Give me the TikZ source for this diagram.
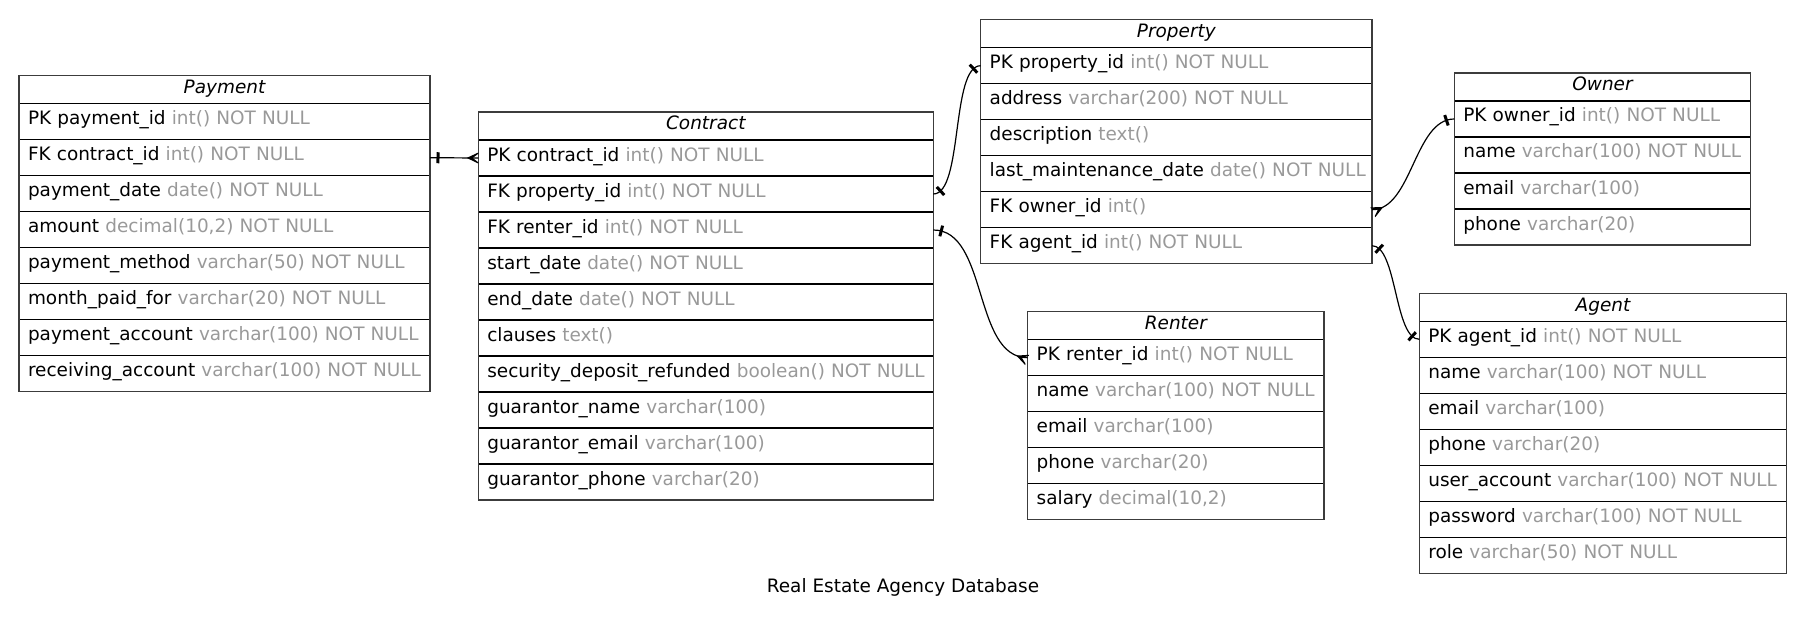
\documentclass[tikz,border=0pt]{standalone}
\usepackage{fontspec}
\setmainfont{DejaVu Sans}
\usetikzlibrary{decorations.markings}
\definecolor{typegray}{HTML}{999999}
\definecolor{framegray}{HTML}{3C3C3C}
\newcommand\erdfont{\fontsize{18.45pt}{22pt}\selectfont}
\newcommand\fl[2]{\mbox{#1 {\color{typegray}#2}}}
\tikzset{
  tw/.style={},
  cell/.style={draw=black, line width=1.2pt, outer sep=0pt, inner xsep=9pt, inner ysep=0pt, anchor=north west, tw},
  hdr/.style={cell, minimum height=28pt, text height=12pt, text depth=4.6pt, align=center, font=\erdfont\itshape},
  fld/.style={cell, minimum height=36pt, text height=12pt, text depth=6pt, align=left, font=\erdfont},
  frame/.style={draw=framegray, line width=1.2pt},
  rel/.style={draw=black, line width=1.2pt},
  teeA/.style={postaction={decorate, decoration={markings, mark=at position 8pt with {\fill (-1.5pt,-5.5pt) rectangle (1.5pt,5.5pt);}}}},
  teeB/.style={postaction={decorate, decoration={markings, mark=at position -8pt with {\fill (-1.5pt,-5.5pt) rectangle (1.5pt,5.5pt);}}}},
  crowA/.style={postaction={decorate, decoration={markings, mark=at position 11.6pt with {\fill (0,0) -- (-11.6pt,5.5pt) -- (-11.6pt,4.3pt) -- (-6pt,0) -- (-11.6pt,-4.3pt) -- (-11.6pt,-5.5pt) -- cycle;}}}},
  crowB/.style={postaction={decorate, decoration={markings, mark=at position -11.6pt with {\fill (0,0) -- (11.6pt,5.5pt) -- (11.6pt,4.3pt) -- (6pt,0) -- (11.6pt,-4.3pt) -- (11.6pt,-5.5pt) -- cycle;}}}},
}
\begin{document}
\begin{tikzpicture}[x=1pt, y=-1pt]
\useasboundingbox (0,0) rectangle (1805,623);

% Payment
\begin{scope}[tw/.style={minimum width=411pt, text width=393pt}]
\node[hdr] (pay) at (19,75.7) {Payment};
\node[fld] (pay1) at (pay.south west) {\fl{PK payment\_id}{int() NOT NULL}};
\node[fld] (pay2) at (pay1.south west) {\fl{FK contract\_id}{int() NOT NULL}};
\node[fld] (pay3) at (pay2.south west) {\fl{payment\_date}{date() NOT NULL}};
\node[fld] (pay4) at (pay3.south west) {\fl{amount}{decimal(10,2) NOT NULL}};
\node[fld] (pay5) at (pay4.south west) {\fl{payment\_method}{varchar(50) NOT NULL}};
\node[fld] (pay6) at (pay5.south west) {\fl{month\_paid\_for}{varchar(20) NOT NULL}};
\node[fld] (pay7) at (pay6.south west) {\fl{payment\_account}{varchar(100) NOT NULL}};
\node[fld] (pay8) at (pay7.south west) {\fl{receiving\_account}{varchar(100) NOT NULL}};
\draw[frame] (pay.north west) rectangle (pay8.south east);
\end{scope}

% Contract
\begin{scope}[tw/.style={minimum width=455pt, text width=437pt}]
\node[hdr] (con) at (478.3,112) {Contract};
\node[fld] (con1) at (con.south west) {\fl{PK contract\_id}{int() NOT NULL}};
\node[fld] (con2) at (con1.south west) {\fl{FK property\_id}{int() NOT NULL}};
\node[fld] (con3) at (con2.south west) {\fl{FK renter\_id}{int() NOT NULL}};
\node[fld] (con4) at (con3.south west) {\fl{start\_date}{date() NOT NULL}};
\node[fld] (con5) at (con4.south west) {\fl{end\_date}{date() NOT NULL}};
\node[fld] (con6) at (con5.south west) {\fl{clauses}{text()}};
\node[fld] (con7) at (con6.south west) {\fl{security\_deposit\_refunded}{boolean() NOT NULL}};
\node[fld] (con8) at (con7.south west) {\fl{guarantor\_name}{varchar(100)}};
\node[fld] (con9) at (con8.south west) {\fl{guarantor\_email}{varchar(100)}};
\node[fld] (con10) at (con9.south west) {\fl{guarantor\_phone}{varchar(20)}};
\draw[frame] (con.north west) rectangle (con10.south east);
\end{scope}

% Property
\begin{scope}[tw/.style={minimum width=391.3pt, text width=373.3pt}]
\node[hdr] (prop) at (980.7,19.7) {Property};
\node[fld] (prop1) at (prop.south west) {\fl{PK property\_id}{int() NOT NULL}};
\node[fld] (prop2) at (prop1.south west) {\fl{address}{varchar(200) NOT NULL}};
\node[fld] (prop3) at (prop2.south west) {\fl{description}{text()}};
\node[fld] (prop4) at (prop3.south west) {\fl{last\_maintenance\_date}{date() NOT NULL}};
\node[fld] (prop5) at (prop4.south west) {\fl{FK owner\_id}{int()}};
\node[fld] (prop6) at (prop5.south west) {\fl{FK agent\_id}{int() NOT NULL}};
\draw[frame] (prop.north west) rectangle (prop6.south east);
\end{scope}

% Owner
\begin{scope}[tw/.style={minimum width=296.4pt, text width=278.4pt}]
\node[hdr] (own) at (1454.3,73) {Owner};
\node[fld] (own1) at (own.south west) {\fl{PK owner\_id}{int() NOT NULL}};
\node[fld] (own2) at (own1.south west) {\fl{name}{varchar(100) NOT NULL}};
\node[fld] (own3) at (own2.south west) {\fl{email}{varchar(100)}};
\node[fld] (own4) at (own3.south west) {\fl{phone}{varchar(20)}};
\draw[frame] (own.north west) rectangle (own4.south east);
\end{scope}

% Renter
\begin{scope}[tw/.style={minimum width=296.3pt, text width=278.3pt}]
\node[hdr] (ren) at (1027.7,311.7) {Renter};
\node[fld] (ren1) at (ren.south west) {\fl{PK renter\_id}{int() NOT NULL}};
\node[fld] (ren2) at (ren1.south west) {\fl{name}{varchar(100) NOT NULL}};
\node[fld] (ren3) at (ren2.south west) {\fl{email}{varchar(100)}};
\node[fld] (ren4) at (ren3.south west) {\fl{phone}{varchar(20)}};
\node[fld] (ren5) at (ren4.south west) {\fl{salary}{decimal(10,2)}};
\draw[frame] (ren.north west) rectangle (ren5.south east);
\end{scope}

% Agent
\begin{scope}[tw/.style={minimum width=367.4pt, text width=349.4pt}]
\node[hdr] (age) at (1419.3,293.3) {Agent};
\node[fld] (age1) at (age.south west) {\fl{PK agent\_id}{int() NOT NULL}};
\node[fld] (age2) at (age1.south west) {\fl{name}{varchar(100) NOT NULL}};
\node[fld] (age3) at (age2.south west) {\fl{email}{varchar(100)}};
\node[fld] (age4) at (age3.south west) {\fl{phone}{varchar(20)}};
\node[fld] (age5) at (age4.south west) {\fl{user\_account}{varchar(100) NOT NULL}};
\node[fld] (age6) at (age5.south west) {\fl{password}{varchar(100) NOT NULL}};
\node[fld] (age7) at (age6.south west) {\fl{role}{varchar(50) NOT NULL}};
\draw[frame] (age.north west) rectangle (age7.south east);
\end{scope}

% Relations
\draw[rel, teeA, crowB] (pay2.east) -- (con1.west);
\draw[rel, teeA, teeB] (con2.east) .. controls +(30,0) and +(-30,0) .. (prop1.west);
\draw[rel, teeA, crowB] (con3.east) .. controls +(55,0) and +(-55,0) .. (ren1.west);
\draw[rel, crowA, teeB] (prop5.east) .. controls +(40,0) and +(-40,0) .. (own1.west);
\draw[rel, teeA, teeB] (prop6.east) .. controls +(25,0) and +(-25,0) .. (age1.west);

% Title
\node[font=\erdfont, anchor=base] (title) at (903,592.7) {Real Estate Agency Database};
\end{tikzpicture}
\end{document}
